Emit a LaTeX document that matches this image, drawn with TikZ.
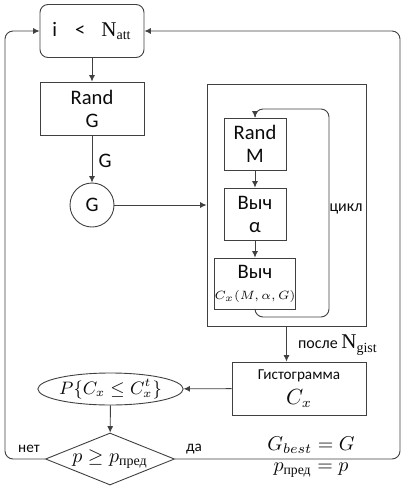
\documentclass[tikz,border=0pt]{standalone}
\usepackage{amsmath}
\usepackage{fontspec}
\setmainfont{Carlito}
\newfontfamily\serifN{Liberation Serif}
\usepackage{tikz}
\usetikzlibrary{arrows.meta,positioning,shapes.geometric}
\definecolor{ln}{HTML}{404040}
\definecolor{ink}{HTML}{0B0B0B}
\newcommand{\pred}{\text{\serifN пред}}

\begin{document}
\begin{tikzpicture}[x=0.5pt,y=-0.5pt,
  box/.style={draw=ln,line width=0.45pt,inner sep=0pt,align=center,font=\fontsize{10.3}{11.5}\selectfont,text=ink},
  arr/.style={draw=ln,line width=0.45pt,-{Latex[length=3.2pt,width=3pt]}},
  lbl/.style={font=\fontsize{7.6}{9}\selectfont,text=ink}]
  \useasboundingbox (0,0) rectangle (407,488);
  % main column
  \node[box,rounded corners=4pt,minimum width=52pt,minimum height=26.5pt] (cond) at (92,31)
    {i\hspace{9pt}<\hspace{8pt}{\serifN\fontsize{10.5}{12}\selectfont N\textsubscript{\fontsize{7}{8}\selectfont att}}};
  \node[box,minimum width=52pt,minimum height=26.5pt] (randG) at (92,108.5) {Rand\\G};
  \node[box,circle,minimum size=22pt] (gen) at (92,205) {G};
  % inner loop
  \node[box,minimum width=79.5pt,minimum height=121pt] (outer) at (286.5,205) {};
  \node[box,minimum width=31pt,minimum height=26pt] (randM) at (255,144) {Rand\\M};
  \node[box,minimum width=31pt,minimum height=26pt] (calcA) at (255,214) {Выч\\α};
  \node[box,minimum width=31pt,minimum height=25.5pt] (calcC) at (255,283.5)
    {Выч\\[-1pt]{\fontsize{6.3}{7}\selectfont$C_x(M,\alpha,G)$}};
  \coordinate (loopB) at (329,317);
  \coordinate (loopT) at (329,109);
  % result part
  \node[box,minimum width=67pt,minimum height=26.5pt] (hist) at (299,388.5)
    {{\fontsize{7.6}{9}\selectfont Гистограмма}\\[1pt]{\fontsize{10.5}{12}\selectfont$C_x$}};
  \node[box,ellipse,minimum width=62pt,minimum height=16pt] (prob) at (110.5,389)
    {\fontsize{8.6}{10}\selectfont$P\{C_x\leq C_x^t\}$};
  \node[box,diamond,aspect=2.5,minimum width=64.5pt,minimum height=26pt] (test) at (110,459)
    {\fontsize{10}{11}\selectfont$p\geq p_{\pred}$};
  \coordinate (backL) at (5,31);
  \coordinate (backR) at (400,31);

  \draw[arr] (cond) -- (randG);
  \draw[arr] (randG) -- (gen);
  \node[box,draw=none] at (105,161) {G};
  \draw[arr] (gen) -- (outer);
  \draw[arr] (randM) -- (calcA);
  \draw[arr] (calcA) -- (calcC);
  \draw[arr,rounded corners=4pt] (calcC.south) |- (loopB) -- (loopT) -| (randM.north);
  \node[lbl,font=\fontsize{8}{9}\selectfont] at (346,209) {цикл};
  \draw[arr] (outer.south) -- (outer.south |- hist.north);
  \node[lbl,anchor=west,font=\fontsize{8}{9}\selectfont] at (291,345)
    {после {\serifN\fontsize{10.5}{12}\selectfont N\textsubscript{\fontsize{7}{8}\selectfont gist}}};
  \draw[arr] (hist) -- (prob);
  \draw[arr] (prob) -- (test);
  \draw[arr,rounded corners=4pt] (test.west) -| (backL) -- (cond.west);
  \draw[arr,rounded corners=4pt] (test.east) -| (backR) -- (cond.east);
  \node[lbl] at (29,449) {нет};
  \node[lbl] at (194,449) {да};
  \node[box,draw=none,font=\fontsize{9.8}{11}\selectfont] at (311,445) {$G_{best}=G$};
  \node[box,draw=none,font=\fontsize{9.8}{11}\selectfont] at (311,470) {$p_{\pred}=p$};
\end{tikzpicture}
\end{document}
